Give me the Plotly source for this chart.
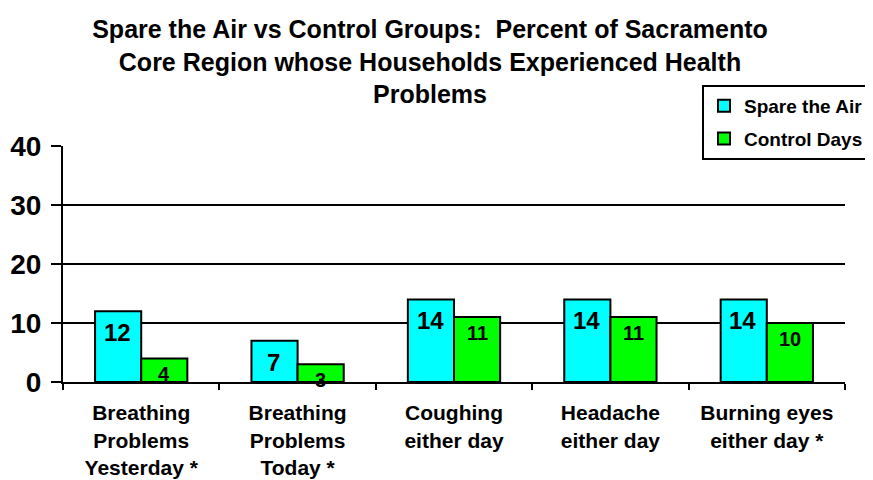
import plotly.graph_objects as go

categories = ["Breathing<br>Problems<br>Yesterday *", "Breathing<br>Problems<br>Today *",
              "Coughing<br>either day", "Headache<br>either day", "Burning eyes<br>either day *"]
spare_the_air = [12, 7, 14, 14, 14]
control_days = [4, 3, 11, 11, 10]
y_ticks = [0, 10, 20, 30, 40]

FONT = "Arial, 'Liberation Sans', sans-serif"

fig = go.Figure()
fig.add_trace(go.Bar(
    name="Spare the Air", x=categories, y=spare_the_air, legendgroup="a",
    marker=dict(color="#00FFFF", line=dict(color="black", width=2)),
))
fig.add_trace(go.Bar(
    name="Control Days", x=categories, y=control_days, legendgroup="b",
    marker=dict(color="#00FF00", line=dict(color="black", width=2)),
))

# value labels just inside the top of each bar
for cat, v in zip(categories, spare_the_air):
    fig.add_annotation(x=cat, y=v, text=f"<b>{v}</b>", showarrow=False,
                       xshift=-24, yshift=-6, yanchor="top",
                       font=dict(family=FONT, size=24, color="black"))
for cat, v in zip(categories, control_days):
    fig.add_annotation(x=cat, y=v, text=f"<b>{v}</b>", showarrow=False,
                       xshift=23, yshift=-3, yanchor="top",
                       font=dict(family=FONT, size=20, color="black"))

# page is rendered with an 8px body margin; margins compensate for it
fig.update_layout(
    width=873, height=480,
    margin=dict(l=55, r=36, t=138, b=106, autoexpand=False),
    paper_bgcolor="white", plot_bgcolor="white",
    barmode="group", bargap=0.41, bargroupgap=0,
    font=dict(family=FONT, color="black"),
    title=dict(
        text="Spare the Air vs Control Groups:  Percent of Sacramento<br>Core Region whose Households Experienced Health<br>Problems",
        x=422/873, xanchor="center", xref="container",
        y=1 - 30/480, yanchor="top", yref="container",
        font=dict(family=FONT, size=25, color="black", weight="bold"),
    ),
    legend=dict(
        x=(694-55)/782, xanchor="left", y=(374-77)/236, yanchor="top",
        bordercolor="black", borderwidth=2, bgcolor="white",
        font=dict(family=FONT, size=19, color="black", weight="bold"),
        itemsizing="constant", itemwidth=30, tracegroupgap=5,
    ),
    showlegend=True,
)
fig.update_xaxes(
    showline=True, linecolor="black", linewidth=2,
    ticks="outside", tickson="boundaries", ticklen=6, tickwidth=2, tickcolor="black",
    tickfont=dict(family=FONT, size=21, color="black", weight="bold"),
    showgrid=False, ticklabelstandoff=11,
)
fig.update_yaxes(
    range=[0, 40], tickvals=y_ticks,
    showline=True, linecolor="black", linewidth=2,
    ticks="outside", ticklen=10, tickwidth=2, tickcolor="black",
    showgrid=True, gridcolor="black", gridwidth=2,
    zeroline=False, ticklabelstandoff=4,
    tickfont=dict(family=FONT, size=28, color="black", weight="bold"),
)

fig.write_html("out.html")
